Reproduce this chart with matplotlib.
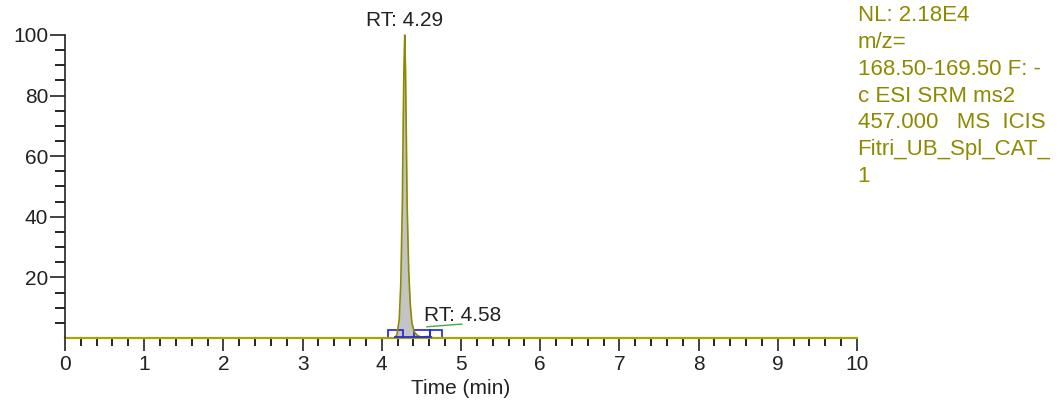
import numpy as np
import matplotlib
matplotlib.use('Agg')
import matplotlib.pyplot as plt
from matplotlib.patches import Rectangle
from matplotlib.ticker import FixedLocator, MultipleLocator

plt.rcParams['font.family'] = ['Liberation Sans', 'DejaVu Sans']
plt.rcParams['font.size'] = 15

# chromatogram (relative abundance, %)
time_min = [0.0, 4.16, 4.19, 4.22, 4.24, 4.26, 4.27, 4.28, 4.29, 4.30, 4.31,
            4.32, 4.34, 4.36, 4.38, 4.41, 4.45, 4.50, 4.58, 4.66, 10.0]
rel_abund = [0.0, 0.0, 1.0, 6.0, 18.0, 45.0, 70.0, 90.0, 100.0, 88.0, 66.0,
             44.0, 22.0, 11.0, 5.0, 2.0, 0.8, 0.3, 0.5, 0.0, 0.0]

peak_labels = ['RT: 4.29', 'RT: 4.58']
peak_rt = [4.29, 4.58]
# integration markers (start, end) in minutes
marker_start = [4.08, 4.41, 4.61]
marker_end = [4.27, 4.61, 4.76]

info_lines = ['NL: 2.18E4', 'm/z=', '168.50-169.50 F: -', 'c ESI SRM ms2',
              '457.000   MS  ICIS', 'Fitri_UB_Spl_CAT_', '1']

olive = '#8E8A00'
fig = plt.figure(figsize=(10.6, 4.18), dpi=100)
ax = fig.add_axes([0.0613, 0.1914, 0.7472, 0.7249])

t = np.array(time_min)
a = np.array(rel_abund)
mask = (t >= 4.16) & (t <= 4.50)
ax.fill_between(t[mask], a[mask], 0, color='#C4C4C4', lw=0)
ax.plot(t, a, color=olive, lw=1.2, clip_on=False)
ax.axhline(0, color='#A8A400', lw=1.6, clip_on=False)

# integration boundaries
ax.plot([4.17, 4.62], [0.4, 0.4], color='#2020E0', lw=1.2)
for s, e in zip(marker_start, marker_end):
    ax.add_patch(Rectangle((s, 0), e - s, 2.7, fill=False,
                           edgecolor='#2020E0', lw=1.2, clip_on=False))

# labels
ax.text(peak_rt[0], 101.5, peak_labels[0], ha='center', va='bottom', color='#222222')
ax.plot([4.57, 5.01], [3.7, 4.6], color='#3CB043', lw=1.0)
ax.text(5.02, 4.3, peak_labels[1], ha='center', va='bottom', color='#222222')

ax.set_xlim(0, 10)
ax.set_ylim(0, 100)
ax.xaxis.set_major_locator(MultipleLocator(1))
ax.xaxis.set_minor_locator(MultipleLocator(0.2))
ax.yaxis.set_major_locator(FixedLocator([20, 40, 60, 80, 100]))
ax.yaxis.set_minor_locator(FixedLocator([v for v in range(5, 100, 5) if v % 20]))
ax.tick_params(axis='x', which='major', length=9, width=1.2, pad=3, colors='#222222')
ax.tick_params(axis='x', which='minor', length=6, width=1.2)
ax.tick_params(axis='y', which='major', length=11, width=1.2, pad=1, colors='#222222')
ax.tick_params(axis='y', which='minor', length=7, width=1.2)

ax.spines['top'].set_visible(False)
ax.spines['right'].set_visible(False)
ax.spines['bottom'].set_visible(False)
ax.spines['left'].set_color('#222222')
ax.spines['left'].set_linewidth(1.2)
ax.set_xlabel('Time (min)', labelpad=4, color='#222222')

y = 0.987
for line in info_lines:
    fig.text(0.809, y, line, ha='left', va='top', color=olive, fontsize=16)
    y -= 0.064

fig.savefig('out.png', dpi=100)
